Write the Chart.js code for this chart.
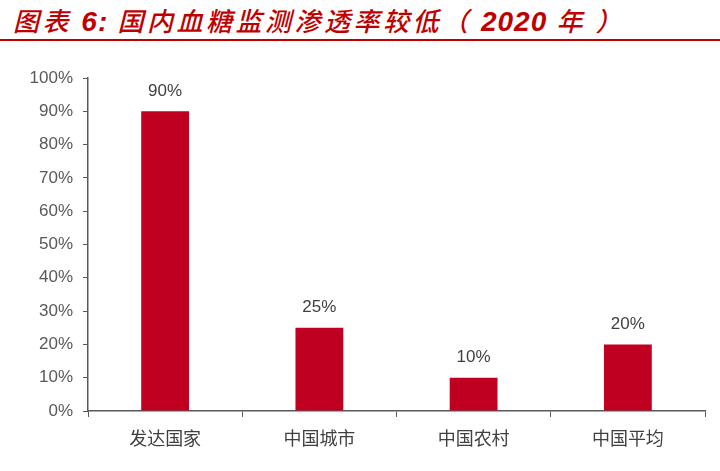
<!DOCTYPE html>
<html lang="zh">
<head>
    <meta charset="UTF-8">
    <title>国内血糖监测渗透率较低</title>
    <script src="https://cdn.jsdelivr.net/npm/chart.js@4.4.0/dist/chart.umd.min.js"></script>
    <style>
        * { margin: 0; padding: 0; box-sizing: border-box; }
        body { width: 720px; height: 471px; background: #fff; overflow: hidden; }
        #page { position: relative; width: 720px; height: 471px; }
        #title {
            position: absolute; left: 13px; top: 1px;
            font-family: 'Noto Sans CJK SC', sans-serif;
            font-weight: 500; font-style: italic;
            font-size: 26px; letter-spacing: 3.5px;
            color: #c00000; white-space: nowrap;
        }
        #title b { font-family: 'Liberation Sans', sans-serif; font-weight: bold; font-size: 28px; letter-spacing: 1px; }
        #rule { position: absolute; left: 0; top: 39px; width: 720px; height: 2px; background: #c00000; }
        #wrap { position: absolute; left: 0; top: 50px; width: 720px; height: 421px; }
    </style>
</head>
<body>
<div id="page">
    <div id="title">图表 <b>6:</b> 国内血糖监测渗透率较低（ <b>2020</b> 年 ）</div>
    <div id="rule"></div>
    <div id="wrap"><canvas id="chart"></canvas></div>
</div>
<script>
    const categories = ['发达国家', '中国城市', '中国农村', '中国平均']
    const penetration = [90, 25, 10, 20]

    const barLabels = {
        id: 'barLabels',
        afterDatasetsDraw(chart) {
            const ctx = chart.ctx
            const meta = chart.getDatasetMeta(0)
            ctx.save()
            ctx.font = '17px "Liberation Sans", sans-serif'
            ctx.fillStyle = '#404040'
            ctx.textAlign = 'center'
            ctx.textBaseline = 'middle'
            meta.data.forEach((bar, i) => {
                ctx.fillText(penetration[i] + '%', bar.x, bar.y - 20)
            })
            ctx.restore()
        }
    }

    new Chart(document.getElementById('chart'), {
        type: 'bar',
        data: {
            labels: categories,
            datasets: [{
                data: penetration,
                backgroundColor: '#c00020',
                categoryPercentage: 1,
                barPercentage: 0.31
            }]
        },
        options: {
            responsive: true,
            maintainAspectRatio: false,
            animation: false,
            layout: { padding: { top: 28, right: 15, bottom: 0, left: 0 } },
            plugins: { legend: { display: false }, tooltip: { enabled: false } },
            scales: {
                y: {
                    min: 0, max: 100,
                    afterFit(scale) { scale.width = 88 },
                    ticks: {
                        stepSize: 10,
                        padding: 10,
                        color: '#595959',
                        font: { family: '"Liberation Sans", sans-serif', size: 17 },
                        callback: v => v + '%'
                    },
                    grid: { drawOnChartArea: false, tickLength: 5, color: '#595959' },
                    border: { color: '#595959', width: 1.5 }
                },
                x: {
                    afterFit(scale) { scale.height = 60 },
                    ticks: {
                        padding: 10,
                        color: '#404040',
                        font: { family: '"Noto Sans CJK SC", sans-serif', size: 18 }
                    },
                    grid: { offset: true, drawOnChartArea: false, tickLength: 6, color: '#595959' },
                    border: { color: '#595959', width: 1.5 }
                }
            }
        },
        plugins: [barLabels]
    })
</script>
</body>
</html>
